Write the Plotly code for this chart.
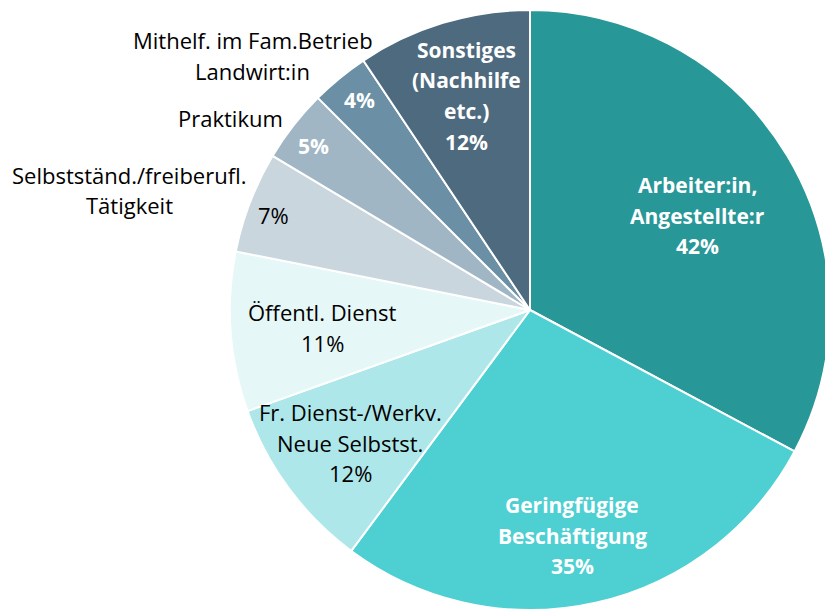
import plotly.graph_objects as go

# ---- data ----
categories = [
    "Arbeiter:in,<br>Angestellte:r",
    "Geringfügige<br>Beschäftigung",
    "Fr. Dienst-/Werkv.<br>Neue Selbstst.",
    "Öffentl. Dienst",
    "Selbstständ./freiberufl.<br>Tätigkeit",
    "Praktikum",
    "Mithelf. im Fam.Betrieb<br>Landwirt:in",
    "Sonstiges<br>(Nachhilfe<br>etc.)",
]
values = [42, 35, 12, 11, 7, 5, 4, 12]

# ---- styling ----
colors = ["#289797", "#4ECFD2", "#AEE7EA", "#E6F7F8",
          "#C9D6DE", "#A0B6C4", "#6B8FA4", "#4E6A7E"]
text_colors = ["white", "white", "black", "black", "black", "white", "white", "white"]
bold = [True, True, False, False, False, True, True, True]
W, H = 832, 612  # slightly larger than the window: the pie is cut at the right/bottom edge
label_pos = [
    (697, 185, True), (572, 505, True), (350, 412, True), (322, 312, True),
    (273, 215, False), (313, 146, False), (359, 100, False), (466, 50, True),
]
outside_name_pos = {4: (129, 175), 5: (230, 118), 6: (253, 40)}
LINE = 30.5
FONT = "Open Sans, sans-serif"
FS = 22
FS_BOLD = 21

cx, cy, R = 530, 310, 300
fig = go.Figure(go.Pie(
    values=values,
    labels=[c.replace("<br>", " ") for c in categories],
    sort=False,
    direction="clockwise",
    rotation=0,
    marker=dict(colors=colors, line=dict(color="white", width=2)),
    textinfo="none",
    hoverinfo="label+value",
    showlegend=False,
    domain=dict(x=[(cx - R) / W, (cx + R) / W],
                y=[1 - (cy + R) / H, 1 - (cy - R) / H]),
))

annotations = []


def add_lines(lines, x, y, color, is_bold):
    for i, ln in enumerate(lines):
        txt = f"<b>{ln}</b>" if is_bold else ln
        annotations.append(dict(
            x=x / W, y=1 - (y + i * LINE) / H, xref="paper", yref="paper",
            text=txt, showarrow=False, xanchor="center", yanchor="middle",
            font=dict(family=FONT, size=FS_BOLD if is_bold else FS, color=color),
        ))


for i, (cat, val) in enumerate(zip(categories, values)):
    x, y, inside = label_pos[i]
    pct = f"{val}%"
    if inside:
        add_lines(cat.split("<br>") + [pct], x, y, text_colors[i], bold[i])
    else:
        add_lines([pct], x, y, text_colors[i], bold[i])
        ox, oy = outside_name_pos[i]
        add_lines(cat.split("<br>"), ox, oy, "black", False)

fig.update_layout(
    width=W, height=H,
    margin=dict(l=0, r=0, t=0, b=0),
    paper_bgcolor="white",
    plot_bgcolor="white",
    annotations=annotations,
)

fig.write_html(
    "out.html",
    config={"displayModeBar": False},
    post_script="document.body.style.margin='0';document.body.style.overflow='hidden';",
)
